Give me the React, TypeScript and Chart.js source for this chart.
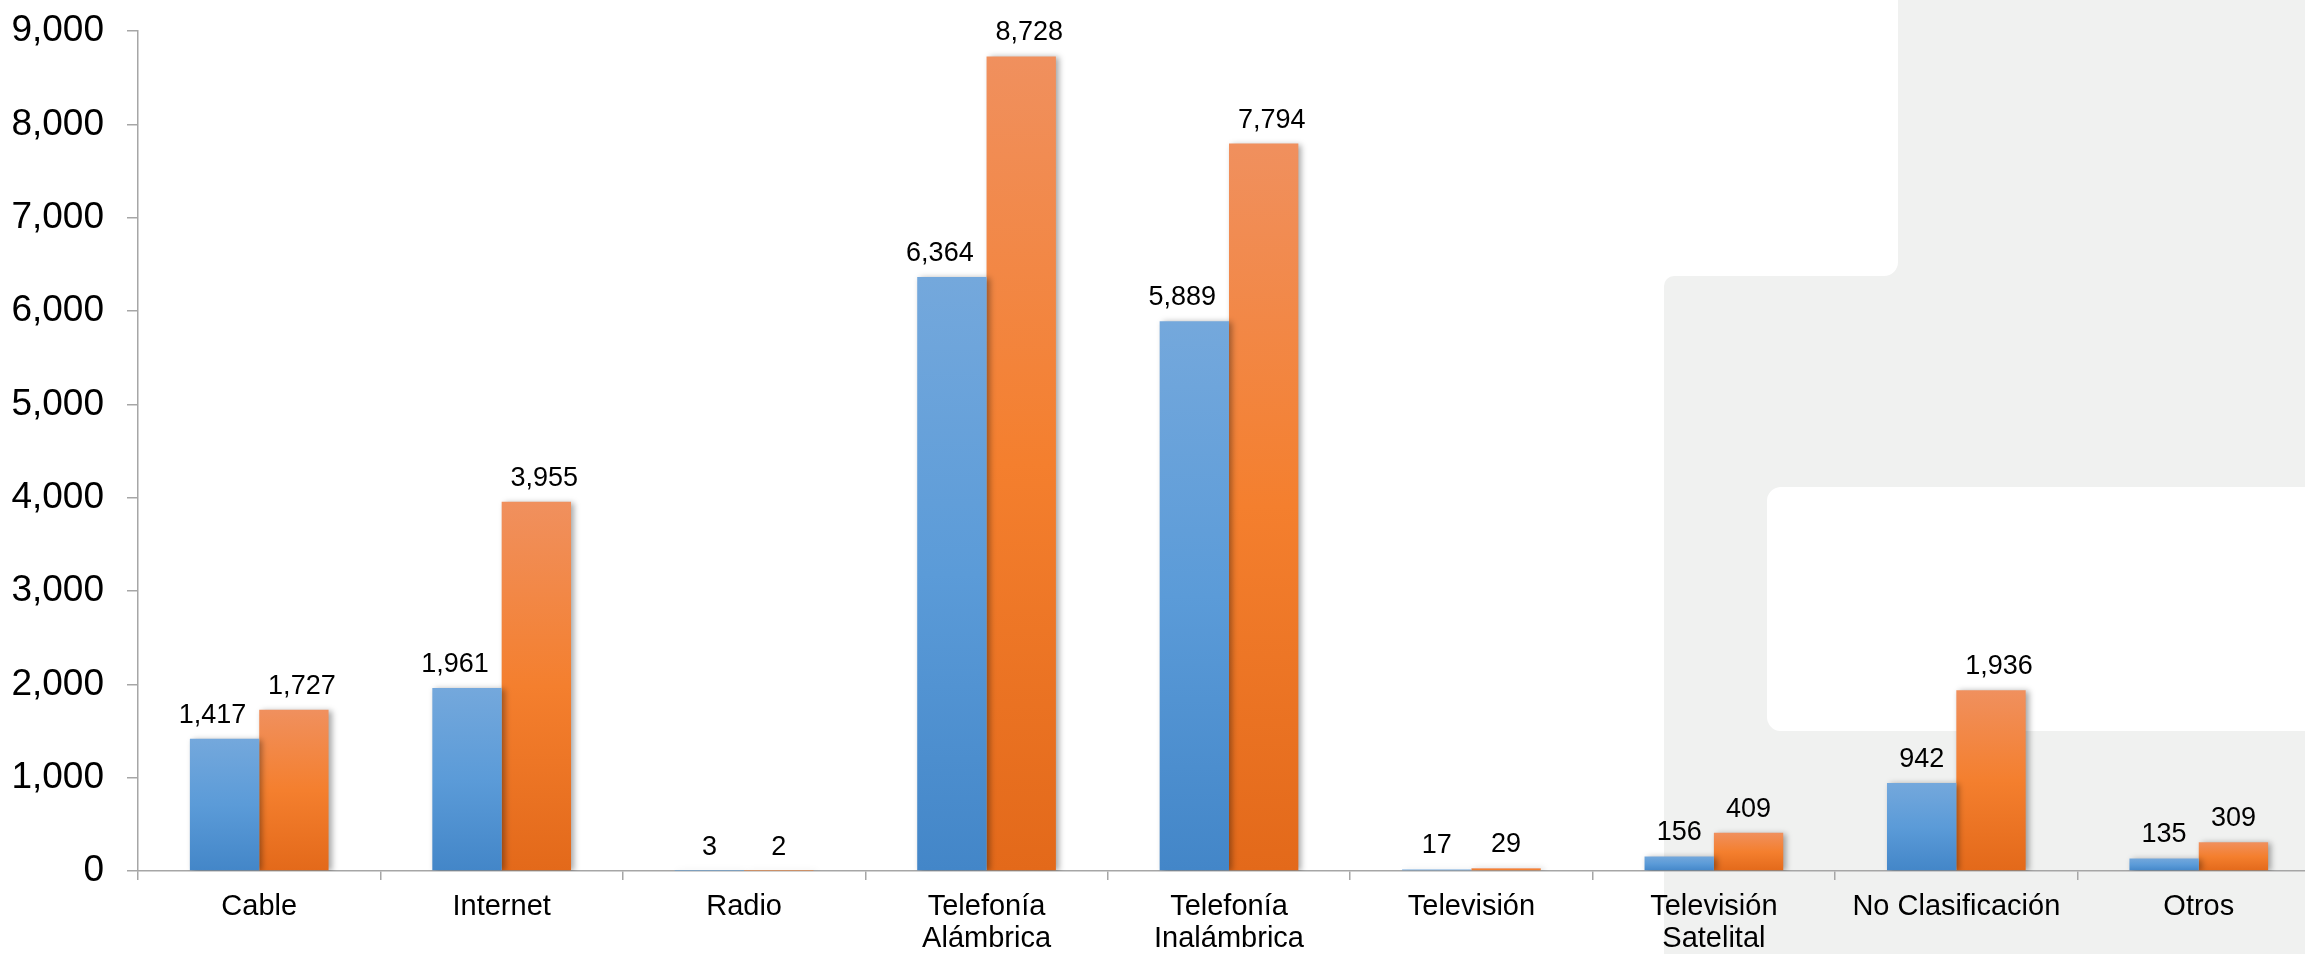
import React, { useEffect, useRef } from 'react';
import { Chart, registerables } from 'chart.js';

Chart.register(...registerables);

const categories: string[][] = [
  ['Cable'],
  ['Internet'],
  ['Radio'],
  ['Telefonía', 'Alámbrica'],
  ['Telefonía', 'Inalámbrica'],
  ['Televisión'],
  ['Televisión', 'Satelital'],
  ['No Clasificación'],
  ['Otros'],
];
const seriesBlue = [1417, 1961, 3, 6364, 5889, 17, 156, 942, 135];
const seriesOrange = [1727, 3955, 2, 8728, 7794, 29, 409, 1936, 309];
const yMin = 0;
const yMax = 9000;
const yStep = 1000;

const blueStops = ['#74A8DC', '#5B9BD8', '#4386C8'];
const orangeStops = ['#F0905E', '#F47F2E', '#E3691A'];

const FONT = '"Liberation Sans", Arial, sans-serif';
const fmt = (v: number) => Number(v).toLocaleString('en-US');

function gradientFill(stops: string[]) {
  return (ctx: any) => {
    const chart = ctx.chart;
    if (!chart.chartArea || ctx.type !== 'data') return stops[1];
    const y = chart.scales.y;
    const v = ctx.raw as number;
    const top = y.getPixelForValue(v);
    const bot = y.getPixelForValue(0);
    if (Math.abs(bot - top) < 1) return stops[1];
    const g = chart.ctx.createLinearGradient(0, top, 0, bot);
    g.addColorStop(0, stops[0]);
    g.addColorStop(0.5, stops[1]);
    g.addColorStop(1, stops[2]);
    return g;
  };
}

const shadowPlugin = {
  id: 'barShadow',
  beforeDatasetsDraw(chart: any) {
    const c = chart.ctx;
    c.save();
    c.shadowColor = 'rgba(0,0,0,0.35)';
    c.shadowBlur = 6;
    c.shadowOffsetX = 3;
    c.shadowOffsetY = 1;
  },
  afterDatasetsDraw(chart: any) {
    chart.ctx.restore();
  },
};

const labelPlugin = {
  id: 'valueLabels',
  afterDraw(chart: any) {
    const c = chart.ctx;
    c.save();
    c.font = `27px ${FONT}`;
    c.fillStyle = '#000';
    c.textAlign = 'center';
    c.textBaseline = 'alphabetic';
    chart.data.datasets.forEach((ds: any, di: number) => {
      const meta = chart.getDatasetMeta(di);
      meta.data.forEach((bar: any, i: number) => {
        const text = fmt(ds.data[i]);
        const dx = text.length >= 4 ? (di === 0 ? -12 : 8) : 0;
        c.fillText(text, bar.x + dx, bar.y - 16);
      });
    });
    c.restore();
  },
};

export default function App() {
  const ref = useRef<HTMLCanvasElement | null>(null);

  useEffect(() => {
    if (!ref.current) return;
    const chart = new Chart(ref.current, {
      type: 'bar',
      data: {
        labels: categories,
        datasets: [
          {
            label: 'Serie 1',
            data: seriesBlue,
            backgroundColor: gradientFill(blueStops),
            borderWidth: 0,
            categoryPercentage: 0.572,
            barPercentage: 1,
          },
          {
            label: 'Serie 2',
            data: seriesOrange,
            backgroundColor: gradientFill(orangeStops),
            borderWidth: 0,
            categoryPercentage: 0.572,
            barPercentage: 1,
          },
        ],
      },
      options: {
        animation: false,
        responsive: false,
        devicePixelRatio: 1,
        layout: { padding: { top: 31, left: 0, right: 0, bottom: 0 } },
        plugins: {
          legend: { display: false },
          title: { display: false },
          tooltip: { enabled: false },
        },
        scales: {
          x: {
            offset: true,
            afterFit: (s: any) => {
              s.height = 83;
              s.paddingLeft = 0;
              s.paddingRight = 0;
            },
            grid: {
              display: true,
              offset: true,
              drawOnChartArea: false,
              drawTicks: true,
              tickLength: 9,
              color: '#A6A6A6',
              lineWidth: 1.5,
            },
            border: { display: true, color: '#A6A6A6', width: 1.5 },
            ticks: {
              color: '#000',
              font: { family: FONT, size: 29, lineHeight: 1.1 },
              padding: 11,
              maxRotation: 0,
              minRotation: 0,
              autoSkip: false,
            },
          },
          y: {
            min: yMin,
            max: yMax,
            afterFit: (s: any) => {
              s.width = 138;
              s.paddingTop = 0;
              s.paddingBottom = 0;
            },
            grid: {
              display: true,
              drawOnChartArea: false,
              drawTicks: true,
              tickLength: 11,
              color: '#A6A6A6',
              lineWidth: 1.5,
            },
            border: { display: true, color: '#A6A6A6', width: 1.5 },
            ticks: {
              stepSize: yStep,
              color: '#000',
              font: { family: FONT, size: 37 },
              padding: 23,
              callback: (v: any) => fmt(v),
            },
          },
        },
      },
      plugins: [shadowPlugin, labelPlugin],
    });
    return () => chart.destroy();
  }, []);

  const gray = '#F0F1F0';
  return (
    <div
      style={{
        position: 'fixed',
        left: 0,
        top: 0,
        width: 2305,
        height: 954,
        overflow: 'hidden',
        background: '#fff',
      }}
    >
      <div style={{ position: 'absolute', left: 1870, top: 0, width: 500, height: 300, background: gray }} />
      <div
        style={{
          position: 'absolute',
          left: 1664,
          top: 276,
          width: 700,
          height: 700,
          background: gray,
          borderTopLeftRadius: 10,
        }}
      />
      <div
        style={{
          position: 'absolute',
          left: 1500,
          top: -20,
          width: 398,
          height: 296,
          background: '#fff',
          borderBottomRightRadius: 14,
        }}
      />
      <div
        style={{
          position: 'absolute',
          left: 1767,
          top: 487,
          width: 600,
          height: 244,
          background: '#fff',
          borderTopLeftRadius: 14,
          borderBottomLeftRadius: 14,
        }}
      />
      <canvas
        ref={ref}
        width={2320}
        height={954}
        style={{ position: 'absolute', left: 0, top: 0, width: 2320, height: 954 }}
      />
    </div>
  );
}
